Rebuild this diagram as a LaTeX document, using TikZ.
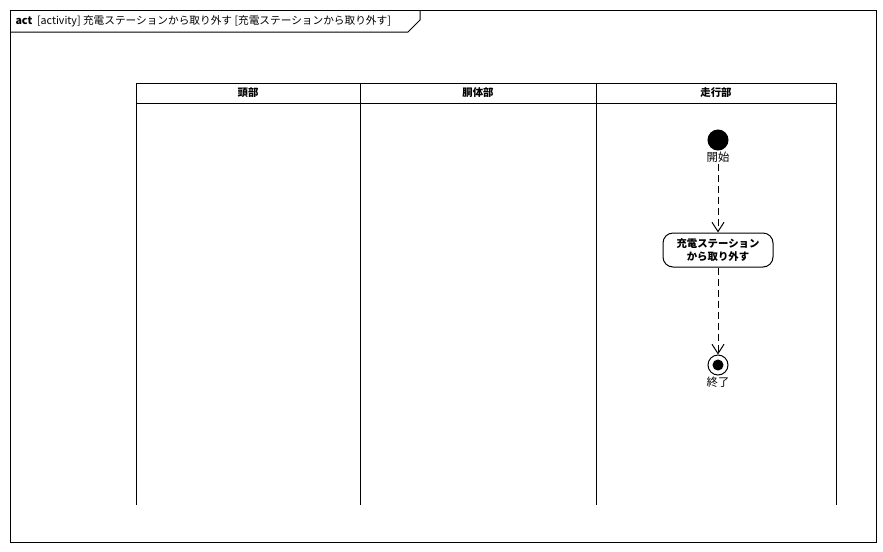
\documentclass[tikz,border=0pt]{standalone}
\usepackage{fontspec}
\setmainfont{Noto Sans CJK JP}
\usetikzlibrary{arrows.meta}

\tikzset{every picture/.style={line width=0.75pt}}
\tikzset{
  lanetext/.style={font=\fontsize{7.8}{9.5}\selectfont\bfseries},
  flowarrow/.style={dash pattern={on 5.25pt off 3pt},-{Straight Barb[length=7pt,width=9pt,line width=0.75pt]}},
}

\begin{document}
\begin{tikzpicture}[x=0.75pt,y=0.75pt,yscale=-1,xscale=1]
\useasboundingbox (0,0) rectangle (883,551);

%Frame [id:frame]
\draw  (10,10) rectangle (876,542) ;
%Frame tab [id:tab]
\draw    (10,32) -- (408,32) -- (420,20) -- (420,10) ;

%Swimlane header [id:lanehead]
\draw    (136,83) -- (836,83) ;
\draw    (136,103) -- (836,103) ;
%Swimlane borders [id:laneline]
\draw    (136,83) -- (136,505) ;
\draw    (360,83) -- (360,505) ;
\draw    (596,83) -- (596,505) ;
\draw    (836,83) -- (836,505) ;

%Initial node [id:start]
\draw [fill={rgb, 255:red, 0; green, 0; blue, 0 }  ,fill opacity=1 ] (718,140) circle (10) ;
\node (start) at (718,140) [circle,minimum size=15pt,inner sep=0pt] {};
%Action [id:act]
\node (act) at (718,250) [draw,rounded corners=7.5pt,minimum width=82.5pt,minimum height=25.5pt,inner sep=1pt,align=center,lanetext] {充電ステーション\\から取り外す};
%Final node [id:final]
\node (final) at (718,365) [draw,circle,minimum size=15pt,inner sep=0pt] {};
\draw [fill={rgb, 255:red, 0; green, 0; blue, 0 }  ,fill opacity=1 ] (718,365) circle (5) ;

% Text Node
\draw (14,21) node [anchor=west][inner sep=0.75pt]  [font=\fontsize{8}{10}\selectfont]  {\textbf{act}\ \ [activity]\ 充電ステーションから取り外す\ [充電ステーションから取り外す]};
% Text Node
\draw (248,93) node [inner sep=0.75pt]  [lanetext]  {頭部};
% Text Node
\draw (478,93) node [inner sep=0.75pt]  [lanetext]  {胴体部};
% Text Node
\draw (716,93) node [inner sep=0.75pt]  [lanetext]  {走行部};
% Text Node
\draw (718,157) node (startlbl) [inner sep=0.75pt]  [font=\fontsize{8.5}{10}\selectfont]  {開始};
% Text Node
\draw (718,382) node (finallbl) [inner sep=0.75pt]  [font=\fontsize{8.5}{10}\selectfont]  {終了};

%Flows [id:flow]
\draw [flowarrow]  (startlbl) -- (act) ;
\draw [flowarrow]  (act) -- (final) ;

\end{tikzpicture}
\end{document}
